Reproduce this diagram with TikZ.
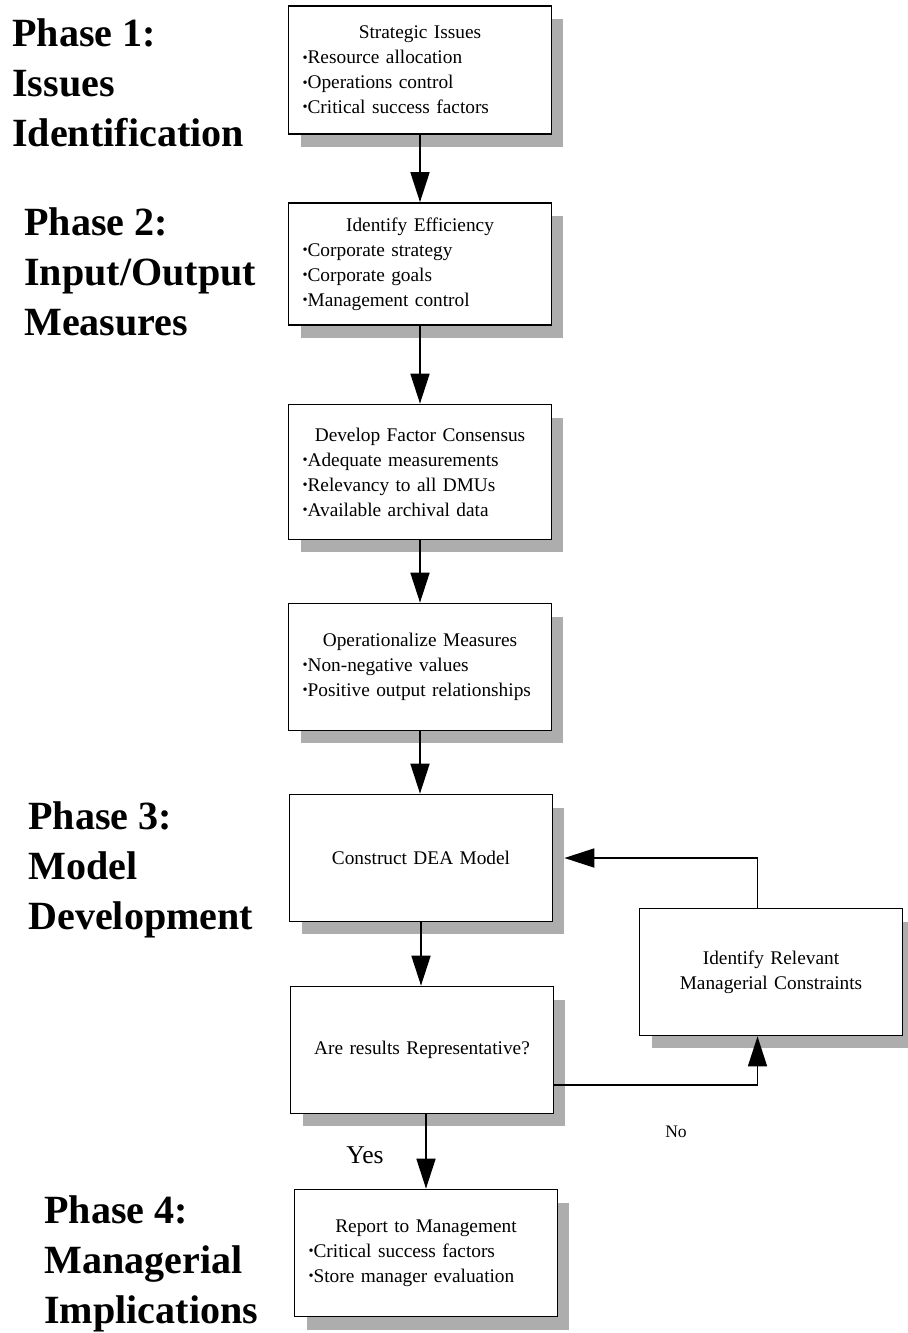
\documentclass[tikz,border=0pt]{standalone}
\usepackage{fontspec}
\setmainfont{Liberation Serif}
\usetikzlibrary{arrows.meta,positioning,shadows}

\newcommand{\bul}{\raisebox{0.2ex}{\scalebox{0.75}{\textbullet}}}

\begin{document}
\begin{tikzpicture}[
  x=0.02cm, y=-0.02cm,
  procbox/.style={draw, line width=1pt, fill=white, text width=4.7cm, inner xsep=0.28cm, minimum height=2.54cm, align=left, font=\fontsize{11}{14.2}\selectfont,
    drop shadow={shadow xshift=0.24cm, shadow yshift=-0.26cm, fill=black!32, opacity=1}},
  onebox/.style={procbox, align=center},
  phaselbl/.style={anchor=west, align=left, inner sep=0pt, font=\fontsize{22.8}{28.35}\selectfont\bfseries},
  arr/.style={-{Triangle[length=0.6cm, width=0.38cm]}, line width=1pt},
]
\useasboundingbox (0,0) rectangle (907,1333);

% phase labels
\node[phaselbl] (ph1) at (12,83) {Phase 1:\\Issues\\Identification};
\node[phaselbl] (ph2) at (24,272) {Phase 2:\\Input/Output\\Measures};
\node[phaselbl] (ph3) at (28,870) {Phase 3:\\Model\\Development};
\node[phaselbl] (ph4) at (44,1264) {Phase 4:\\Managerial\\Implications};

% main column
\node[procbox, minimum height=2.56cm] (issues) at (420,70) {\makebox[\linewidth]{Strategic Issues}\\ \bul Resource allocation\\ \bul Operations control\\ \bul Critical success factors};
\node[procbox, minimum height=2.44cm] (eff) at (420,264) {\makebox[\linewidth]{Identify Efficiency}\\ \bul Corporate strategy\\ \bul Corporate goals\\ \bul Management control};
\node[procbox, minimum height=2.7cm] (cons) at (420,472) {\makebox[\linewidth]{Develop Factor Consensus}\\ \bul Adequate measurements\\ \bul Relevancy to all DMUs\\ \bul Available archival data};
\node[procbox] (oper) at (420,667) {\makebox[\linewidth]{Operationalize Measures}\\ \bul Non-negative values\\ \bul Positive output relationships};
\node[onebox] (dea) at (421,858) {Construct DEA Model};
\node[onebox] (rep) at (422,1050) {Are results Representative?};
\node[onebox] (constr) at (771,972) {Identify Relevant\\Managerial Constraints};
\node[procbox] (report) at (426,1253) {\makebox[\linewidth]{Report to Management}\\ \bul Critical success factors\\ \bul Store manager evaluation};

\node (yes) at (365,1155) {\fontsize{14.6}{16}\selectfont Yes};
\node (no) at (676,1132) {No};

% connectors
\draw[arr] (issues) -- (eff);
\draw[arr] (eff) -- (cons);
\draw[arr] (cons) -- (oper);
\draw[arr] (oper.south) -- (oper.south |- dea.north);
\draw[arr] (dea.south) -- (dea.south |- rep.north);
\draw[arr] (report.north |- rep.south) -- (report.north);
\draw[arr] ([yshift=-0.7cm]rep.east) -| ([xshift=-0.27cm]constr.south);
\draw[arr, shorten >=0.22cm] ([xshift=-0.27cm]constr.north) |- (dea.east);
\end{tikzpicture}
\end{document}
